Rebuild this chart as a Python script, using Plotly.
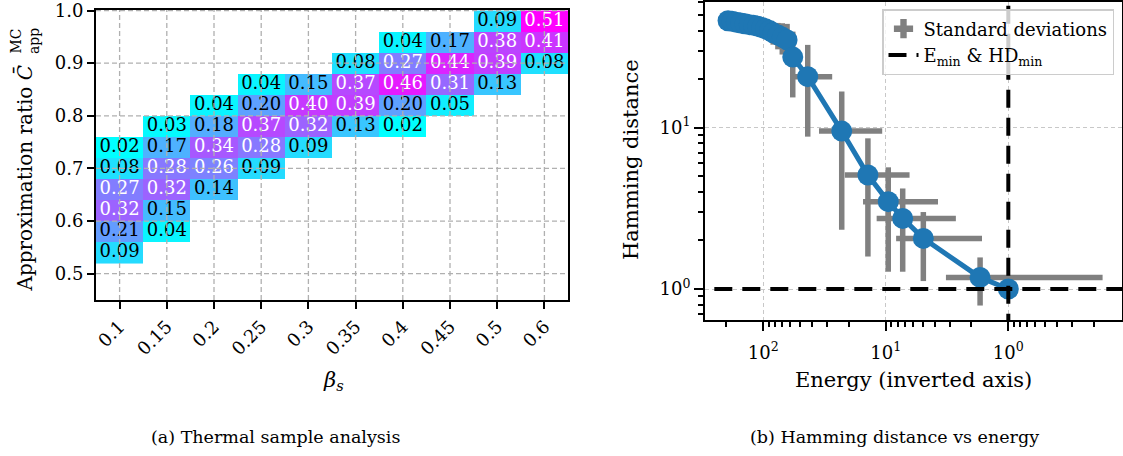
import plotly.graph_objects as go

W, H = 1123, 456
FONT = "'DejaVu Serif', 'Liberation Serif', serif"

# ---------------- (a) thermal sample analysis ----------------
beta_labels = ["0.1", "0.15", "0.2", "0.25", "0.3", "0.35", "0.4", "0.45", "0.5", "0.6"]
ratio_bins = [0.54, 0.58, 0.62, 0.66, 0.70, 0.74, 0.78, 0.82, 0.86, 0.90, 0.94, 0.98]
ratio_ticks = [0.5, 0.6, 0.7, 0.8, 0.9, 1.0]
N = None
# fraction of samples per ratio bin (rows, bottom to top) for each beta_s (columns)
fractions = [
    [0.09, N, N, N, N, N, N, N, N, N],
    [0.21, 0.04, N, N, N, N, N, N, N, N],
    [0.32, 0.15, N, N, N, N, N, N, N, N],
    [0.27, 0.32, 0.14, N, N, N, N, N, N, N],
    [0.08, 0.28, 0.26, 0.09, N, N, N, N, N, N],
    [0.02, 0.17, 0.34, 0.28, 0.09, N, N, N, N, N],
    [N, 0.03, 0.18, 0.37, 0.32, 0.13, 0.02, N, N, N],
    [N, N, 0.04, 0.20, 0.40, 0.39, 0.20, 0.05, N, N],
    [N, N, N, 0.04, 0.15, 0.37, 0.46, 0.31, 0.13, N],
    [N, N, N, N, N, 0.08, 0.27, 0.44, 0.39, 0.08],
    [N, N, N, N, N, N, 0.04, 0.17, 0.38, 0.41],
    [N, N, N, N, N, N, N, N, 0.09, 0.51],
]

# ---------------- (b) Hamming distance vs energy ----------------
energy = [194, 180, 166, 153, 141, 130, 120, 111, 103, 96, 89, 83, 76, 70, 64,
          57.5, 43.4, 22.9, 14.0, 9.55, 7.28, 4.94, 1.70, 1.00]
hamming = [46.0, 45.6, 45.1, 44.6, 44.0, 43.5, 43.1, 42.6, 41.8, 41.0, 40.0, 38.7, 37.6, 36.4, 35.0,
           27.4, 20.7, 9.53, 5.09, 3.48, 2.74, 2.06, 1.18, 1.00]
energy_std = [5, 5, 5, 5, 5, 5, 5, 5, 5, 5, 5, 5, 5, 6, 7,
              8, 16, 12.2, 7.6, 5.8, 4.6, 3.3, 1.53, 0]
hamming_std = [2, 2, 2.5, 2.5, 3, 3, 3.5, 3.5, 4, 4.5, 5, 6, 7, 8, 9,
               12, 11.9, 7.2, 3.5, 2.2, 1.46, 0.94, 0.39, 0]


def px(x):
    return x / W


def py(y):
    return 1 - y / H


vmin = min(v for row in fractions for v in row if v is not None)
vmax = max(v for row in fractions for v in row if v is not None)

fig = go.Figure()

cols = list(range(len(beta_labels)))
fig.add_trace(go.Heatmap(
    x=cols, y=ratio_bins, z=fractions,
    colorscale=[[0, "rgb(0,255,255)"], [1, "rgb(255,0,255)"]],
    zmin=vmin, zmax=vmax, showscale=False, hoverinfo="skip",
    xaxis="x", yaxis="y",
))

tx, ty, tt, tc = [], [], [], []
for r, row in enumerate(fractions):
    for c, v in enumerate(row):
        if v is None:
            continue
        tx.append(c)
        ty.append(ratio_bins[r])
        tt.append(f"{v:.2f}")
        tc.append("white" if v > (vmax / 2) else "black")
fig.add_trace(go.Scatter(
    x=tx, y=ty, text=tt, mode="text",
    textfont=dict(family=FONT, size=18, color=tc),
    showlegend=False, hoverinfo="skip", xaxis="x", yaxis="y",
))

# error bars first so the curve sits on top of them
fig.add_trace(go.Scatter(
    x=energy, y=hamming, mode="markers",
    marker=dict(size=2, color="rgba(0,0,0,0)"),
    error_x=dict(type="data", array=energy_std, color="#808080", thickness=5.5, width=0),
    error_y=dict(type="data", array=hamming_std, color="#808080", thickness=5.5, width=0),
    showlegend=False, hoverinfo="skip", xaxis="x2", yaxis="y2",
))
fig.add_trace(go.Scatter(
    x=energy, y=hamming, mode="lines+markers",
    line=dict(color="#1f77b4", width=5),
    marker=dict(size=21, color="#1f77b4"),
    showlegend=False, xaxis="x2", yaxis="y2",
))

e_min, hd_min = min(energy), min(hamming)
dash = "18px,10px"
fig.add_trace(go.Scatter(
    x=[1e4, 1e-3], y=[hd_min, hd_min], mode="lines",
    line=dict(color="black", width=4, dash=dash),
    name="E<sub>min</sub> &amp; HD<sub>min</sub>", legendrank=2,
    xaxis="x2", yaxis="y2", hoverinfo="skip",
))
fig.add_trace(go.Scatter(
    x=[e_min, e_min], y=[0.01, 1e3], mode="lines",
    line=dict(color="black", width=4, dash=dash),
    showlegend=False, xaxis="x2", yaxis="y2", hoverinfo="skip",
))
fig.add_trace(go.Scatter(
    x=[None], y=[None], mode="markers",
    marker=dict(symbol="cross", size=16, color="#808080"),
    name="Standard deviations", legendrank=1,
    xaxis="x2", yaxis="y2",
))

# dashed grid drawn over the heatmap cells
grid = dict(color="#b0b0b0", width=1.3, dash="5px,3px")
shapes = []
for c in cols:
    shapes.append(dict(type="line", xref="x", yref="y domain", x0=c, x1=c, y0=0, y1=1,
                       line=grid, layer="above"))
for t in ratio_ticks:
    shapes.append(dict(type="line", xref="x domain", yref="y", x0=0, x1=1, y0=t, y1=t,
                       line=grid, layer="above"))

tickfont = dict(family=FONT, size=18, color="black")
axis_common = dict(showline=True, linecolor="black", linewidth=2, mirror=True,
                   ticks="outside", tickcolor="black", tickwidth=2, zeroline=False,
                   tickfont=tickfont, ticklabeloverflow="allow", automargin=False)

fig.update_layout(
    width=W, height=H,
    margin=dict(l=0, r=0, t=0, b=0, autoexpand=False),
    paper_bgcolor="white", plot_bgcolor="white",
    font=dict(family=FONT, color="black"),
    shapes=shapes,
    xaxis=dict(domain=[px(96), px(568)], range=[-0.5, len(beta_labels) - 0.5],
               tickvals=cols, ticktext=beta_labels, tickangle=-45, ticklen=7,
               showgrid=False, **axis_common),
    yaxis=dict(domain=[py(300), py(10)], range=[0.45, 1.001],
               tickvals=ratio_ticks, ticktext=[f"{t:.1f}" for t in ratio_ticks],
               ticklen=7, showgrid=False, **axis_common),
    xaxis2=dict(domain=[px(705), px(1122)], type="log", range=[2.476, -0.928],
                tickvals=[100, 10, 1],
                ticktext=["10<sup>2</sup>", "10<sup>1</sup>", "10<sup>0</sup>"],
                ticklen=9, ticklabelstandoff=6,
                showgrid=True, gridcolor="#c8c8c8", gridwidth=1, griddash="4px,3px",
                minor=dict(ticks="outside", ticklen=5, tickwidth=1.5, tickcolor="black",
                           tickmode="array",
                           tickvals=[0.2, 0.3, 0.4, 0.5, 0.6, 0.7, 0.8, 0.9,
                                     2, 3, 4, 5, 6, 7, 8, 9,
                                     20, 30, 40, 50, 60, 70, 80, 90, 200, 300],
                           showgrid=False),
                anchor="y2", **axis_common),
    yaxis2=dict(domain=[py(320), py(2)], type="log", range=[-0.192, 1.779],
                tickvals=[1, 10], ticktext=["10<sup>0</sup>", "10<sup>1</sup>"],
                ticklen=9,
                showgrid=True, gridcolor="#c8c8c8", gridwidth=1, griddash="4px,3px",
                minor=dict(ticks="outside", ticklen=5, tickwidth=1.5, tickcolor="black",
                           tickmode="array",
                           tickvals=[0.7, 0.8, 0.9, 2, 3, 4, 5, 6, 7, 8, 9,
                                     20, 30, 40, 50, 60],
                           showgrid=False),
                anchor="x2", **axis_common),
    legend=dict(x=px(1114), xanchor="right", y=py(9), yanchor="top",
                bgcolor="rgba(255,255,255,0.8)", bordercolor="#cccccc", borderwidth=1.5,
                font=dict(family=FONT, size=18, color="black"), tracegroupgap=0),
    showlegend=True,
)

title_font = dict(family=FONT, size=20, color="black")
small_font = dict(family=FONT, size=14, color="black")
annotations = [
    dict(text="Approximation ratio <i>C\u0304</i>", x=px(25), y=py(294), xanchor="center",
         yanchor="bottom", textangle=-90, font=title_font),
    dict(text="MC", x=px(16), y=py(56), xanchor="center", yanchor="bottom",
         textangle=-90, font=small_font),
    dict(text="app", x=px(34), y=py(56), xanchor="center", yanchor="bottom",
         textangle=-90, font=small_font),
    dict(text="<i>\u03b2</i><sub><i>s</i></sub>", x=px(333), y=py(381), xanchor="center",
         yanchor="middle", font=dict(family=FONT, size=21, color="black")),
    dict(text="Hamming distance", x=px(631), y=py(160), xanchor="center",
         yanchor="middle", textangle=-90, font=dict(family=FONT, size=21, color="black")),
    dict(text="Energy (inverted axis)", x=px(913), y=py(380), xanchor="center",
         yanchor="middle", font=dict(family=FONT, size=21, color="black")),
    dict(text="(a) Thermal sample analysis", x=px(275), y=py(437), xanchor="center",
         yanchor="middle", font=dict(family=FONT, size=17.5, color="black")),
    dict(text="(b) Hamming distance vs energy", x=px(894), y=py(437), xanchor="center",
         yanchor="middle", font=dict(family=FONT, size=17.5, color="black")),
]
for a in annotations:
    a.update(xref="paper", yref="paper", showarrow=False)
fig.update_layout(annotations=annotations)

fig.write_html("out.html")
